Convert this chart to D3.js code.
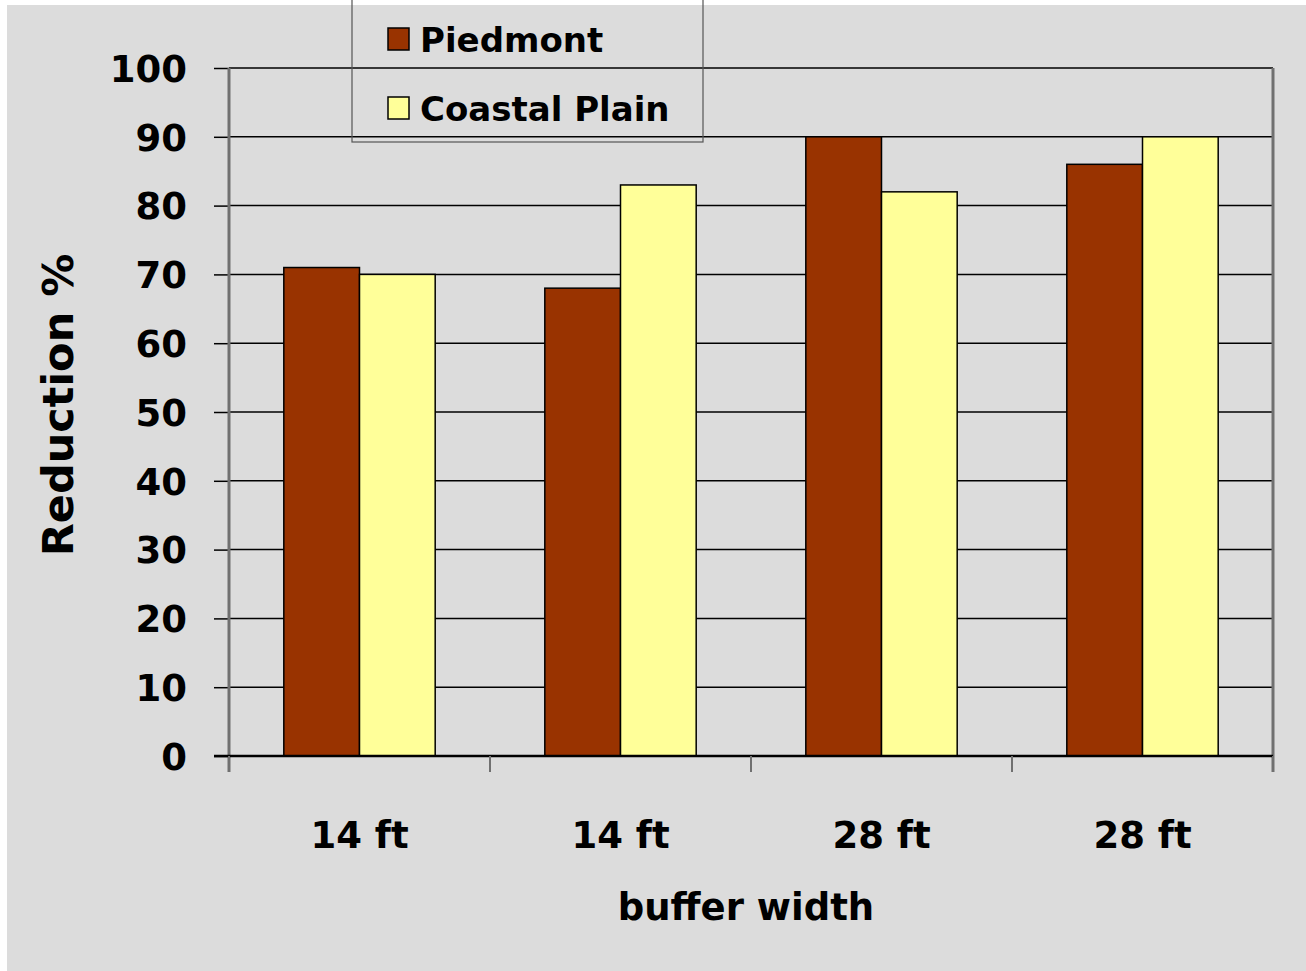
<!DOCTYPE html>
<html>
<head>
<meta charset="utf-8">
<script src="https://cdn.jsdelivr.net/npm/d3@7"></script>
<style>
  body { margin: 0; background: #fff; }
  text { font-family: "DejaVu Sans", Verdana, sans-serif; font-weight: bold; fill: #000; }
</style>
</head>
<body>
<div id="chart"></div>
<script>
// data
var categories = ['14 ft', '14 ft', '28 ft', '28 ft'];
var seriesNames = ['Piedmont', 'Coastal Plain'];
var piedmont = [71, 68, 90, 86];
var coastalPlain = [70, 83, 82, 90];
var yTicks = [0, 10, 20, 30, 40, 50, 60, 70, 80, 90, 100];

var color = {
  'Piedmont': '#993300',
  'Coastal Plain': '#ffff99'
};

var W = 1306, H = 971;
var margin = {top: 68, right: 33, bottom: 215, left: 229},
    w = W - margin.left - margin.right,
    h = H - margin.top - margin.bottom;

var svg = d3.select('#chart').append('svg')
            .attr('width', W)
            .attr('height', H);

// gray page background (small white strip on left/top)
svg.append('rect')
   .attr('x', 7).attr('y', 5)
   .attr('width', W - 7).attr('height', H - 5)
   .attr('fill', '#dcdcdc');

var focus = svg.append('g')
               .attr('transform', 'translate(' + margin.left + ',' + margin.top + ')');

// scales - index domain since category labels repeat
var xScale = d3.scaleBand().domain(d3.range(categories.length)).range([0, w]).padding(0),
    xSub = d3.scaleBand().domain(seriesNames)
             .range([xScale.bandwidth() * 0.21, xScale.bandwidth() * 0.79]).padding(0),
    yScale = d3.scaleLinear().domain([0, 100]).range([h, 0]);

// horizontal gridlines
focus.selectAll('.grid')
     .data(yTicks)
     .enter().append('line')
     .attr('class', 'grid')
     .attr('x1', 0).attr('x2', w)
     .attr('y1', function(d) { return yScale(d); })
     .attr('y2', function(d) { return yScale(d); })
     .attr('stroke', '#000')
     .attr('stroke-width', 1.5);

// right border
focus.append('line')
     .attr('x1', w).attr('x2', w)
     .attr('y1', 0).attr('y2', h + 16)
     .attr('stroke', '#707070')
     .attr('stroke-width', 3);

// bars
var rows = categories.map(function(c, i) {
  return {i: i, values: [
    {key: 'Piedmont', value: piedmont[i]},
    {key: 'Coastal Plain', value: coastalPlain[i]}
  ]};
});

var group = focus.selectAll('.group')
                 .data(rows)
                 .enter().append('g')
                 .attr('class', 'group')
                 .attr('transform', function(d) { return 'translate(' + xScale(d.i) + ',0)'; });

group.selectAll('rect')
     .data(function(d) { return d.values; })
     .enter().append('rect')
     .attr('x', function(d) { return xSub(d.key); })
     .attr('width', xSub.bandwidth())
     .attr('y', function(d) { return yScale(d.value); })
     .attr('height', function(d) { return h - yScale(d.value); })
     .attr('fill', function(d) { return color[d.key]; })
     .attr('stroke', '#000')
     .attr('stroke-width', 1.5);

// y axis
var yAxis = focus.append('g')
                 .attr('class', 'axis axis--y')
                 .call(d3.axisLeft(yScale).tickValues(yTicks).tickSize(15).tickPadding(27));
yAxis.select('.domain').remove();
yAxis.selectAll('line').attr('stroke', '#000').attr('stroke-width', 1.5);
yAxis.selectAll('text')
     .attr('dy', '0.36em')
     .style('font-size', '37px')
     .style('font-family', '"DejaVu Sans", sans-serif');

focus.append('line')
     .attr('x1', 0).attr('x2', 0)
     .attr('y1', 0).attr('y2', h + 16)
     .attr('stroke', '#707070')
     .attr('stroke-width', 3);

// x axis baseline + ticks at category boundaries
focus.append('line')
     .attr('x1', -15).attr('x2', w)
     .attr('y1', h).attr('y2', h)
     .attr('stroke', '#000')
     .attr('stroke-width', 2.5);

focus.selectAll('.xtick')
     .data(d3.range(categories.length + 1))
     .enter().append('line')
     .attr('class', 'xtick')
     .attr('x1', function(d) { return d * xScale.step(); })
     .attr('x2', function(d) { return d * xScale.step(); })
     .attr('y1', h).attr('y2', h + 16)
     .attr('stroke', '#707070')
     .attr('stroke-width', 2);

focus.selectAll('.xlabel')
     .data(categories)
     .enter().append('text')
     .attr('class', 'xlabel')
     .attr('x', function(d, i) { return xScale(i) + xScale.bandwidth() / 2; })
     .attr('y', h + 92)
     .attr('text-anchor', 'middle')
     .style('font-size', '37px')
     .text(function(d) { return d; });

// axis titles
svg.append('text')
   .attr('text-anchor', 'middle')
   .attr('transform', 'translate(746,920)')
   .style('font-size', '37px')
   .text('buffer width');

svg.append('text')
   .attr('text-anchor', 'middle')
   .attr('transform', 'translate(73,405)rotate(-90)')
   .style('font-size', '43px')
   .text('Reduction %');

// legend (transparent box, cut off at the top)
var legend = svg.append('g');
legend.append('rect')
      .attr('x', 352).attr('y', -10)
      .attr('width', 351).attr('height', 152)
      .attr('fill', 'none')
      .attr('stroke', '#555')
      .attr('stroke-width', 1.2);

var key = legend.selectAll('.key')
                .data(seriesNames)
                .enter().append('g')
                .attr('class', 'key')
                .attr('transform', function(d, i) { return 'translate(388,' + (28 + i * 69) + ')'; });

key.append('rect')
   .attr('width', 21).attr('height', 22)
   .attr('fill', function(d) { return color[d]; })
   .attr('stroke', '#000')
   .attr('stroke-width', 1.5);

key.append('text')
   .attr('x', 32).attr('y', 24)
   .style('font-size', '34px')
   .text(function(d) { return d; });
</script>
</body>
</html>
